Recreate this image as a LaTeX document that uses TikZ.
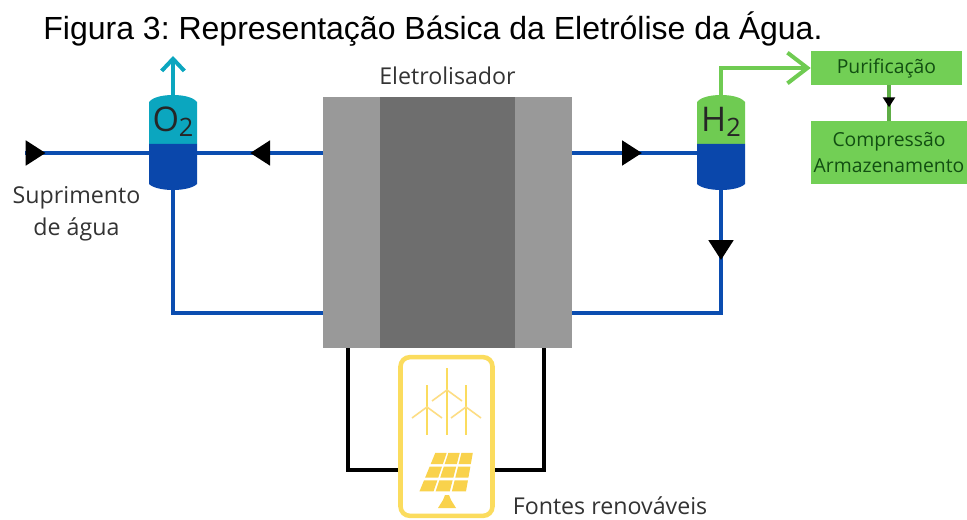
\documentclass[tikz,border=0pt]{standalone}
\usepackage{fontspec}
\setmainfont{Open Sans}
\newfontfamily\titlefont{Liberation Sans}
\usetikzlibrary{arrows.meta,calc,decorations.markings}

\definecolor{pipeblue}{HTML}{0B4DB0}
\definecolor{liquidblue}{HTML}{0A47AB}
\definecolor{gascyan}{HTML}{0BA6BF}
\definecolor{gasgreen}{HTML}{6FCB52}
\definecolor{boxgreen}{HTML}{72CF55}
\definecolor{textgreen}{HTML}{124F12}
\definecolor{sunyellow}{HTML}{FBDC5E}
\definecolor{paneyellow}{HTML}{F9D24C}
\definecolor{lightsteel}{HTML}{999999}
\definecolor{darksteel}{HTML}{6E6E6E}
\definecolor{labelgrey}{HTML}{333333}

\tikzset{
	pipe/.style={draw=pipeblue, line width=3.7pt},
	wire/.style={draw=black, line width=3.4pt},
	gasline/.style={line width=3pt},
	tipat/.style={postaction={decorate, decoration={markings, mark=at position #1 with {\arrow[black]{Triangle[length=15pt,width=18pt]}}}}},
	smalltipat/.style={postaction={decorate, decoration={markings, mark=at position #1 with {\arrow[black]{Triangle[length=7.5pt,width=9pt]}}}}},
	tank/.style={minimum width=36pt, inner sep=0pt},
	stage/.style={fill=boxgreen, inner sep=0pt, text=textgreen, font=\fontsize{14.5}{19}\selectfont, align=center},
	label/.style={text=labelgrey, font=\fontsize{17.4}{24}\selectfont, align=center, inner sep=0pt}
}

\begin{document}
\begin{tikzpicture}[x=0.75pt, y=-0.75pt]
	\useasboundingbox (0,0) rectangle (967,520);

	\node (title) at (433,29) [inner sep=0pt, font=\titlefont\fontsize{24}{26}\selectfont] {\frenchspacing Figura 3: Representação Básica da Eletrólise da Água.};

	% electrolyser block
	\node (elec) at (447.5,222.5) [fill=lightsteel, minimum width=186.75pt, minimum height=188.25pt, inner sep=0pt] {};
	\node (core) at (447.5,222.5) [fill=darksteel, minimum width=101.25pt, minimum height=188.25pt, inner sep=0pt] {};
	\node (eletrolisador) at (447.5,76) [label] {Eletrolisador};

	% separators, only the names and outlines here
	\node (o2) at (173,142.5) [tank, minimum height=71.25pt] {};
	\node (h2) at (721,142.5) [tank, minimum height=71.25pt] {};

	\coordinate (supply) at (25,153);
	\coordinate (o2feed) at (173,153);
	\coordinate (h2feed) at (721,153);
	\coordinate (elecleft) at (323,153);
	\coordinate (elecright) at (572,153);
	\coordinate (backleft) at (323,313);
	\coordinate (backright) at (572,313);
	\coordinate (o2vent) at (173,56);

	\path[pipe]
		(supply) edge[tipat=0.14] (o2feed)
		(elecleft) edge[tipat=0.486] (o2feed)
		(elecright) edge[tipat=0.47] (h2feed);
	\draw[pipe] (backleft) -| (o2.south);
	\draw[pipe, tipat=0.257] (h2.south) |- (backright);

	\foreach \tname/\tx/\tcol/\tlab in {o2/173/gascyan/O, h2/721/gasgreen/H} {
		\fill[\tcol] (\tx-24,144) -- (\tx-24,102) .. controls (\tx-20,97) and (\tx-10,95) .. (\tx,95) .. controls (\tx+10,95) and (\tx+20,97) .. (\tx+24,102) -- (\tx+24,144) -- cycle;
		\fill[liquidblue] (\tx-24,144) -- (\tx-24,184) .. controls (\tx-20,188) and (\tx-10,190) .. (\tx,190) .. controls (\tx+10,190) and (\tx+20,188) .. (\tx+24,184) -- (\tx+24,144) -- cycle;
		\node (\tname lab) at (\tx,122) [inner sep=0pt, text=black!85, font=\fontsize{25.5}{25}\selectfont] {\tlab\raisebox{-3.5pt}{\fontsize{19}{19}\selectfont 2}};
	}

	% purification line
	\node (purif) at (886.5,68) [stage, minimum width=113.25pt, minimum height=25.5pt] {Purificação};
	\node (comp) at (889,152.5) [stage, minimum width=117pt, minimum height=47.25pt] {Compressão\\Armazenamento};

	\draw[gasline, draw=gascyan, -{Straight Barb[length=9pt,width=17pt]}] (o2.north) -- (o2vent);
	\draw[gasline, draw=gasgreen, -{Straight Barb[length=15pt,width=23pt]}] (h2.north) |- (purif.west);
	\draw[gasline, draw=gasgreen!85!black, smalltipat=0.62] (purif.south -| comp.north) -- (comp.north);

	\node (suprimento) at (76.5,214) [label] {Suprimento\\de água};

	% power source
	\coordinate (wirel) at (348,348);
	\coordinate (wirer) at (544,348);
	\coordinate (wireleft) at (410,470);
	\coordinate (wireright) at (484,470);
	\draw[wire] (wirel) |- (wireleft);
	\draw[wire] (wirer) |- (wireright);
	\node (renew) at (446.5,436.5) [draw=sunyellow, line width=3.4pt, rounded corners=7pt, fill=white, minimum width=69pt, minimum height=119pt, inner sep=0pt] {};

	\foreach \wx/\hub in {427/407, 447/390, 466/407} {
		\draw[sunyellow, line width=2pt] (\wx,\hub-22) -- (\wx,435);
		\draw[sunyellow!85!orange!70, line width=1.2pt] (\wx-15,\hub+11) -- (\wx,\hub) -- (\wx+15,\hub+11);
	}

	\coordinate (pa) at (435,452);
	\coordinate (pb) at (474,452);
	\coordinate (pc) at (418,493);
	\coordinate (pd) at (467,493);
	\foreach \i in {0,1,2} {
		\foreach \j in {0,1,2} {
			\fill[paneyellow]
				($($(pa)!{(\i+0.05)/3}!(pb)$)!{(\j+0.07)/3}!($(pc)!{(\i+0.05)/3}!(pd)$)$) --
				($($(pa)!{(\i+0.92)/3}!(pb)$)!{(\j+0.07)/3}!($(pc)!{(\i+0.92)/3}!(pd)$)$) --
				($($(pa)!{(\i+0.92)/3}!(pb)$)!{(\j+0.88)/3}!($(pc)!{(\i+0.92)/3}!(pd)$)$) --
				($($(pa)!{(\i+0.05)/3}!(pb)$)!{(\j+0.88)/3}!($(pc)!{(\i+0.05)/3}!(pd)$)$) -- cycle;
		}
	}
	\fill[paneyellow] (438,508) -- (443,500) -- (445,495) -- (449,495) -- (451,500) -- (456,508) -- cycle;

	\node (fontes) at (610,506) [label] {Fontes renováveis};
\end{tikzpicture}
\end{document}
